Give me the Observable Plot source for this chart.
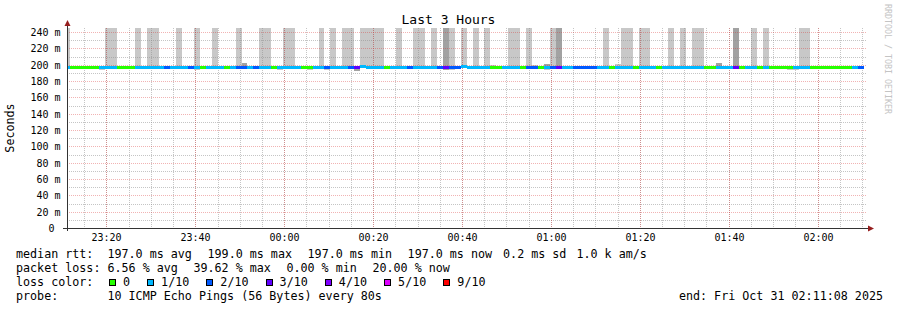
<!DOCTYPE html>
<html>
<head>
<meta charset="utf-8">
<script src="https://cdn.jsdelivr.net/npm/d3@7"></script>
<script src="https://cdn.jsdelivr.net/npm/@observablehq/plot@0.6"></script>
<style>
html, body { margin: 0; padding: 0; background: #fff; }
#wrap { position: relative; width: 897px; height: 310px; overflow: hidden; font-family: "DejaVu Sans Mono", monospace; color: #000; background: #fff; }
#chart { position: absolute; left: 0; top: 0; }
#title { position: absolute; left: 0; top: 12px; width: 897px; text-align: center; font-size: 13px; line-height: 15px; }
#ylabel { position: absolute; left: 10px; top: 128px; font-size: 11.7px; line-height: 14px; white-space: nowrap; transform: translate(-50%, -50%) rotate(-90deg); }
#credit { position: absolute; left: 883px; top: 4px; font-size: 8.3px; color: #c4c4c4; writing-mode: vertical-rl; white-space: nowrap; }
#legend { position: absolute; left: 16px; top: 247px; width: 867px; font-size: 11.7px; line-height: 14px; white-space: pre; }
#legend .row { position: relative; height: 14px; }
#legend .lab { display: inline-block; width: 13ch; }
#legend .it { display: inline-block; }
#legend .sw { display: inline-block; width: 7px; height: 7px; box-sizing: border-box; border: 1px solid #000; margin-left: 1.5px; margin-right: 7px; vertical-align: baseline; }
#legend .end { position: absolute; right: 0; top: 0; }
</style>
</head>
<body>
<div id="wrap">
  <div id="chart"></div>
  <div id="title"></div>
  <div id="ylabel"></div>
  <div id="credit"></div>
  <div id="legend"></div>
</div>
<script>
// ---------- text ----------
const titleText = "Last 3 Hours";
const yAxisTitle = "Seconds";
const creditText = "RRDTOOL / TOBI OETIKER";
const medianLabel = "median rtt:";
const medianStats = ["197.0 ms avg", "199.0 ms max", "197.0 ms min", "197.0 ms now", "0.2 ms sd", "1.0 k am/s"];
const lossLabel = "packet loss:";
const lossStats = ["6.56 % avg", "39.62 % max", "0.00 % min", "20.00 % now"];
const colorLabel = "loss color:";
const probeLabel = "probe:";
const probeText = "10 ICMP Echo Pings (56 Bytes) every 80s";
const endText = "end: Fri Oct 31 02:11:08 2025";

// ---------- loss colour legend ----------
const lossLevels = [0, 1, 2, 3, 4, 5, 9];            // lost pings out of 10
const lossLabels = ["0", "1/10", "2/10", "3/10", "4/10", "5/10", "9/10"];
const lossColors = ["#26ff00", "#00b8ff", "#0059ff", "#5e00ff", "#7e00ff", "#dd00ff", "#ff0000"];

// ---------- axes ----------
const timeStart = "2025-10-30T23:11:08Z";
const timeEnd = "2025-10-31T02:11:08Z";
const xTickLabels = ["23:20", "23:40", "00:00", "00:20", "00:40", "01:00", "01:20", "01:40", "02:00"];
const xTickDays = ["2025-10-30", "2025-10-30", "2025-10-31", "2025-10-31", "2025-10-31", "2025-10-31", "2025-10-31", "2025-10-31", "2025-10-31"];
const yMax = 245;
const yTickValues = [0, 20, 40, 60, 80, 100, 120, 140, 160, 180, 200, 220, 240];
const yTickLabels = ["0\u00a0", "20 m", "40 m", "60 m", "80 m", "100 m", "120 m", "140 m", "160 m", "180 m", "200 m", "220 m", "240 m"];
const yMinorValues = [10, 30, 50, 70, 90, 110, 130, 150, 170, 190, 210, 230];

// ---------- data: one entry per 80 s step, first step starts 23:10:24 ----------
const firstStep = "2025-10-30T23:10:24Z";
const stepSeconds = 80;
// lost pings (of 10) per step
const loss = [
  1,
  0,0,0,0,0,1,1,1,0,0,
  0,1,1,1,1,1,2,1,1,1,
  2,1,0,1,1,1,0,1,2,2,
  1,2,1,1,0,1,1,1,1,0,
  0,1,1,2,1,1,1,2,3,1,
  1,1,1,0,1,1,1,2,1,1,
  1,1,2,3,2,2,1,1,1,1,
  1,0,0,1,1,1,0,2,2,0,
  1,2,3,1,1,2,2,2,2,1,
  1,0,1,1,1,0,1,1,1,0,
  1,1,1,1,1,1,1,0,0,1,
  1,1,3,0,1,1,0,1,0,0,
  0,0,1,1,1,0,0,0,0,0,
  0,0,1,2
];
// median rtt (ms)
const median = [
  197,
  197,197,197,197,197,197,197,197,197,197,
  197,197,197,197,197,197,197,197,197,197,
  197,197,197,197,197,197,197,197,197,197,
  197,197,197,197,197,197,197,197,197,197,
  197,197,197,197,197,197,197,197,197,199,
  197,197,197,197,197,197,197,197,197,197,
  197,197,197,197,197,197,199,197,197,197,
  197,197,197,197,197,197,197,197,197,197,
  197,197,197,197,197,197,197,197,197,197,
  197,197,197,197,197,197,197,197,197,197,
  197,197,197,197,197,197,197,197,197,197,
  197,197,197,197,197,197,197,197,197,197,
  197,197,197,197,197,197,197,197,197,197,
  197,197,197,197
];
// highest ping rtt (ms) per step
const rttMax = [
  400,
  197,197,197,197,197,197,400,400,197,197,
  197,400,197,400,400,197,197,197,400,197,
  197,400,197,197,400,197,197,197,400,202,
  197,197,400,400,197,197,400,400,197,197,
  197,197,400,197,400,197,400,400,197,400,
  400,400,400,197,197,400,197,197,400,400,
  197,400,197,400,400,197,400,197,400,197,
  400,200,197,197,400,400,197,400,200,197,
  201,400,400,197,197,197,197,197,197,197,
  400,197,201,400,400,197,400,400,197,197,
  197,400,197,400,197,400,400,197,197,202,
  197,197,400,197,197,400,197,400,197,197,
  197,197,197,400,400,197,197,197,197,197,
  197,197,197,197
];
// lowest ping rtt (ms) per step
const rttMin = [
  197,
  197,197,195.5,197,197,193,197,197,197,197,
  197,197,197,197,197,197,197,197,197,197,
  197,193,197,197,197,197,197,197,197,197,
  197,197,197,197,197,193,197,197,197,197,
  193,197,197,194,197,197,197,197,192.5,197,
  197,197,197,197,197,197,197,197,195.5,197,
  197,197,197,193,193,197,197,197,197,197,
  197,197,197,197,197,197,197,197,197,197,
  194,197,197,197,197,197,197,197,197,197,
  197,197,197,197,197,197,197,197,197,197,
  197,197,197,197,197,197,197,197,195.5,197,
  197,197,197,197,197,197,197,197,197,197,
  197,194,194,197,197,197,197,197,197,197,
  197,197,197,197
];
// dense core of the smoke (several pings) upper / lower bound (ms)
const denseMax = [
  197,
  197,197,197,197,197,197,197,197,197,197,
  197,197,197,197,197,197,197,197,197,197,
  197,197,197,197,197,197,197,197,197,202,
  197,197,197,197,197,197,197,197,197,197,
  197,197,197,197,197,197,197,197,197,197,
  197,197,197,197,197,197,197,197,197,197,
  197,197,197,400,197,197,197,197,197,197,
  197,197,197,197,197,197,197,197,197,197,
  201,197,400,197,197,197,197,197,197,197,
  197,197,197,197,197,197,197,197,197,197,
  197,197,197,197,197,197,197,197,197,202,
  197,197,400,197,197,197,197,197,197,197,
  197,197,197,197,197,197,197,197,197,197,
  197,197,197,197
];
const denseMin = [
  197,
  197,197,197,197,197,197,197,197,197,197,
  197,197,197,197,197,197,197,197,197,197,
  197,197,197,197,197,197,197,197,197,197,
  197,197,197,197,197,197,197,197,197,197,
  197,197,197,197,197,197,197,197,192.5,197,
  197,197,197,197,197,197,197,197,197,197,
  197,197,197,193,197,197,197,197,197,197,
  197,197,197,197,197,197,197,197,197,197,
  197,197,197,197,197,197,197,197,197,197,
  197,197,197,197,197,197,197,197,197,197,
  197,197,197,197,197,197,197,197,197,197,
  197,197,197,197,197,197,197,197,197,197,
  197,197,197,197,197,197,197,197,197,197,
  197,197,197,197
];

// ---------- build ----------
const tStart = new Date(timeStart), tEnd = new Date(timeEnd);
const xTickTimes = xTickLabels.map((s, i) => new Date(`${xTickDays[i]}T${s}:00Z`));
const stepT0 = new Date(firstStep);
function lossColor(l) {
  let j = 0;
  for (let k = 0; k < lossLevels.length; k++) if (l >= lossLevels[k]) j = k;
  return lossColors[j];
}
const rows = loss.map((l, i) => ({
  t0: new Date(+stepT0 + i * stepSeconds * 1000),
  t1: new Date(+stepT0 + (i + 1) * stepSeconds * 1000),
  loss: l, median: median[i], rttMax: rttMax[i], rttMin: rttMin[i],
  denseMax: denseMax[i], denseMin: denseMin[i]
}));
const minorTimes = d3.utcMinute.every(5).range(tStart, tEnd);

const lightSmoke = "#c8c8c8", darkSmoke = "#a2a2a2";
const minorGrid = "rgba(140,140,140,0.5)", majorGrid = "rgba(215,45,45,0.36)";

const chart = Plot.plot({
  width: 897, height: 250,
  marginLeft: 67, marginRight: 30, marginTop: 28, marginBottom: 22,
  style: { fontFamily: '"DejaVu Sans Mono", monospace', fontSize: "10px", color: "#000", background: "transparent", overflow: "visible" },
  x: { type: "utc", domain: [tStart, tEnd], round: true, ticks: xTickTimes,
       tickFormat: d => xTickLabels[xTickTimes.findIndex(t => +t === +d)],
       tickSize: 0, tickPadding: 5, label: null },
  y: { domain: [0, yMax], round: true, ticks: yTickValues,
       tickFormat: d => yTickLabels[yTickValues.indexOf(d)],
       tickSize: 0, tickPadding: 7, label: null },
  marks: [
    // smoke
    Plot.rect(rows.filter(d => d.rttMax > d.median), { x1: "t0", x2: "t1", y1: "median", y2: "rttMax", fill: lightSmoke, clip: true }),
    Plot.rect(rows.filter(d => d.rttMin < d.median), { x1: "t0", x2: "t1", y1: "rttMin", y2: "median", fill: lightSmoke, clip: true }),
    Plot.rect(rows.filter(d => d.denseMax > d.median), { x1: "t0", x2: "t1", y1: "median", y2: "denseMax", fill: darkSmoke, clip: true }),
    Plot.rect(rows.filter(d => d.denseMin < d.median), { x1: "t0", x2: "t1", y1: "denseMin", y2: "median", fill: darkSmoke, clip: true }),
    // grid
    Plot.ruleX(minorTimes, { stroke: minorGrid, strokeDasharray: "1,1" }),
    Plot.ruleY(yMinorValues, { stroke: minorGrid, strokeDasharray: "1,1" }),
    Plot.ruleX(xTickTimes, { stroke: majorGrid, strokeDasharray: "1,1" }),
    Plot.ruleY(yTickValues.filter(v => v > 0), { stroke: majorGrid, strokeDasharray: "1,1" }),
    // median rtt coloured by loss
    Plot.ruleY(rows, { y: "median", x1: "t0", x2: "t1", stroke: d => lossColor(d.loss), strokeWidth: 3, clip: true })
  ]
});
document.getElementById("chart").appendChild(chart);

// axis lines with arrows, placed through the plot's scales
const sx = chart.scale("x"), sy = chart.scale("y");
const ax0 = sx.apply(tStart), ax1 = sx.apply(tEnd), ay0 = sy.apply(0), ayTop = sy.apply(yMax);
const g = d3.select(chart).append("g");
const axisColor = "#333", arrowColor = "#961e1e";
g.append("line").attr("x1", ax0 - 4).attr("x2", ax1 + 2).attr("y1", ay0 + 0.5).attr("y2", ay0 + 0.5).attr("stroke", axisColor);
g.append("line").attr("x1", ax0 + 0.5).attr("x2", ax0 + 0.5).attr("y1", ay0 + 3).attr("y2", ayTop - 3).attr("stroke", axisColor);
g.append("path").attr("d", `M${ax0 - 2.5},${ayTop - 2}L${ax0 + 0.5},${ayTop - 8}L${ax0 + 3.5},${ayTop - 2}Z`).attr("fill", arrowColor);
g.append("path").attr("d", `M${ax1 + 1},${ay0 - 2.5}L${ax1 + 7},${ay0 + 0.5}L${ax1 + 1},${ay0 + 3.5}Z`).attr("fill", arrowColor);

// titles
document.getElementById("title").textContent = titleText;
document.getElementById("ylabel").textContent = yAxisTitle;
document.getElementById("credit").textContent = creditText;

// legend
const gap = 15.6;
const legend = document.getElementById("legend");
function row() { const r = document.createElement("div"); r.className = "row"; legend.appendChild(r); return r; }
function span(parent, cls, text, marginRight) {
  const s = document.createElement("span"); s.className = cls; if (text != null) s.textContent = text;
  if (marginRight != null) s.style.marginRight = marginRight + "px";
  parent.appendChild(s); return s;
}
const r1 = row(); span(r1, "lab", medianLabel);
const gaps1 = [gap, gap, gap, 11, 10, 0];
medianStats.forEach((t, i) => span(r1, "it", t, gaps1[i]));
const r2 = row(); span(r2, "lab", lossLabel);
lossStats.forEach(t => span(r2, "it", t, gap));
const r3 = row(); span(r3, "lab", colorLabel);
lossLabels.forEach((t, i) => {
  const it = span(r3, "it", null, gap);
  const sw = span(it, "sw", null); sw.style.background = lossColors[i];
  span(it, "", t);
});
const r4 = row(); span(r4, "lab", probeLabel); span(r4, "it", probeText);
span(r4, "end", endText);
</script>
</body>
</html>
